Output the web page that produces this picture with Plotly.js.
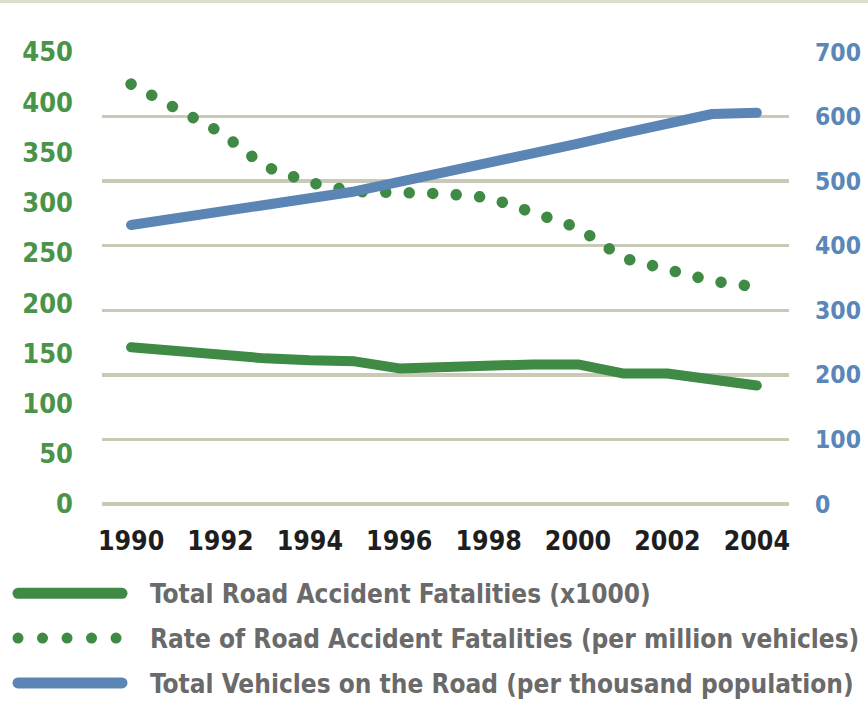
<!DOCTYPE html>
<html>
<head>
<meta charset="utf-8">
<script src="https://cdn.plot.ly/plotly-3.0.1.min.js"></script>
<style>
  html, body { margin: 0; padding: 0; background: #ffffff; }
  #topband { width: 868px; height: 3px; background: #dcdccb; }
  #chart { width: 868px; height: 699px; }
</style>
</head>
<body>
<div id="topband"></div>
<div id="chart"></div>
<script>
// ---- data ----
const years = [1990, 1991, 1992, 1993, 1994, 1995, 1996, 1997, 1998, 1999, 2000, 2001, 2002, 2003, 2004];
const fatalities = [156, 152, 149, 145, 143, 142, 135, 137, 139, 139, 139, 130, 130, 124, 118];
const fatalityRate = [418, 394, 370, 336, 320, 311, 310, 309, 305, 290, 275, 245, 233, 222, 216];
const vehicles = [432, 442, 452, 462, 472, 484, 499, 513, 528, 543, 558, 574, 590, 604, 606];
const seriesNames = [
  "Total Road Accident Fatalities (x1000)",
  "Rate of Road Accident Fatalities (per million vehicles)",
  "Total Vehicles on the Road (per thousand population)"
];
const xTicks = [1990, 1992, 1994, 1996, 1998, 2000, 2002, 2004];
const leftTicks = [0, 50, 100, 150, 200, 250, 300, 350, 400, 450];
const rightTicks = [0, 100, 200, 300, 400, 500, 600, 700];

const GREEN = "#3f8a45";
const BLUE = "#5a85b5";
const FONT = "'DejaVu Sans Condensed', 'DejaVu Sans', sans-serif";

const traces = [
  { x: years, y: fatalities, name: seriesNames[0], type: "scatter", mode: "lines",
    line: { color: GREEN, width: 10 }, yaxis: "y", legendgroup: "a" },
  { x: years, y: fatalityRate, name: seriesNames[1], type: "scatter", mode: "lines",
    line: { color: GREEN, width: 10, dash: "dot" }, yaxis: "y", legendgroup: "b" },
  { x: years, y: vehicles, name: seriesNames[2], type: "scatter", mode: "lines",
    line: { color: BLUE, width: 10 }, yaxis: "y2", legendgroup: "c" }
];

const layout = {
  width: 868, height: 699,
  margin: { l: 102, r: 79, t: 49, b: 198, autoexpand: false },
  paper_bgcolor: "#ffffff", plot_bgcolor: "#ffffff",
  showlegend: true,
  font: { family: FONT },
  xaxis: {
    range: [1989.35, 2004.72], tickvals: xTicks, showgrid: false, zeroline: false,
    showline: false, ticks: "", ticklabelstandoff: 18, automargin: false,
    tickfont: { family: FONT, size: 26.5, color: "#1e1e1e", weight: "bold" }
  },
  yaxis: {
    range: [0, 450], tickvals: leftTicks, showgrid: false, zeroline: false,
    showline: false, ticks: "", ticklabelstandoff: 28, automargin: false,
    tickfont: { family: FONT, size: 27, color: "#4a944a", weight: "bold" }
  },
  yaxis2: {
    range: [0, 700], tickvals: rightTicks, overlaying: "y", side: "right",
    showgrid: true, gridcolor: "#c9c9b8", gridwidth: 3.5,
    zeroline: true, zerolinecolor: "#c9c9b8", zerolinewidth: 3.5,
    showline: false, ticks: "", ticklabelstandoff: 25,
    automargin: false,
    tickfont: { family: FONT, size: 24.5, color: "#5b86b8", weight: "bold" }
  },
  legend: {
    xref: "container", yref: "container", x: 0, y: 0.189, xanchor: "left", yanchor: "top",
    traceorder: "grouped", tracegroupgap: 8, itemwidth: 140,
    font: { family: FONT, size: 26, color: "#6a6a6a", weight: "bold" },
    bgcolor: "rgba(0,0,0,0)"
  },
  hovermode: false
};

const gd = document.getElementById("chart");

function restyleLines() {
  const lineTraces = gd.querySelectorAll(".scatterlayer .trace");
  lineTraces.forEach(function (t, i) {
    const p = t.querySelector("path.js-line");
    if (!p) return;
    p.style.strokeLinecap = "round";
    p.style.strokeLinejoin = "round";
    if (i === 1) { p.style.strokeDasharray = "0.01 23.5"; p.style.strokeWidth = "11.5px"; }
  });
  const legTraces = gd.querySelectorAll(".legend .traces");
  legTraces.forEach(function (t, i) {
    const p = t.querySelector(".legendlines path");
    if (p) {
      p.style.strokeLinecap = "round";
      p.style.strokeWidth = "11px";
      p.setAttribute("d", "M18,0h104");
      if (i === 1) { p.style.strokeDasharray = "0.01 24.5"; }
    }
  });
}

Plotly.newPlot(gd, traces, layout, { staticPlot: true, displayModeBar: false }).then(restyleLines);
gd.on("plotly_afterplot", restyleLines);
</script>
</body>
</html>
